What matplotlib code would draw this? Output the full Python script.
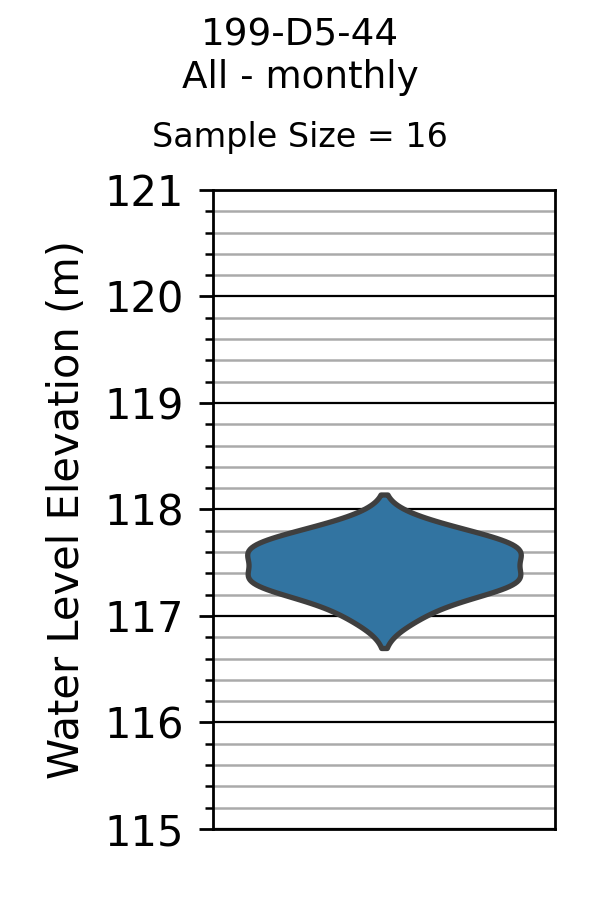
import matplotlib
matplotlib.use("Agg")
import matplotlib.pyplot as plt
from matplotlib.ticker import MultipleLocator
import seaborn as sns
import numpy as np

well = "199-D5-44"
subtitle = "All - monthly"
elevations = [116.98, 117.12, 117.25, 117.29, 117.32, 117.34, 117.36, 117.38,
              117.53, 117.58, 117.61, 117.63, 117.66, 117.69, 117.78, 117.86]
y_min, y_max = 115, 121

fig = plt.figure(figsize=(3, 4.5), dpi=200)
ax = fig.add_axes([0.355, 0.0789, 0.570, 0.71])

sns.violinplot(y=elevations, ax=ax, inner=None, color="#3274a1", saturation=1,
               linewidth=1.9, linecolor="#3f3f3f", width=0.8)

ax.set_ylim(y_min, y_max)
ax.set_xlim(-0.5, 0.5)
ax.yaxis.set_major_locator(MultipleLocator(1))
ax.yaxis.set_minor_locator(MultipleLocator(0.2))
ax.grid(which="major", axis="y", color="black", linewidth=0.8)
ax.grid(which="minor", axis="y", color="#aaaaaa", linewidth=0.9)
ax.set_axisbelow(True)
ax.set_xticks([])
ax.tick_params(axis="y", which="major", length=5, width=1, labelsize=15, pad=5.5)
ax.tick_params(axis="y", which="minor", length=2.8, width=0.9)
for s in ax.spines.values():
    s.set_linewidth(1.0)
ax.set_ylabel("Water Level Elevation (m)", fontsize=15, labelpad=6)
ax.set_xlabel("")

fig.text(0.5, 1 - 45.5 / 900, well, ha="center", va="baseline", fontsize=13.4)
fig.text(0.5, 1 - 87.5 / 900, subtitle, ha="center", va="baseline", fontsize=13.4)
fig.text(0.5, 1 - 146.5 / 900, f"Sample Size = {len(elevations)}", ha="center",
         va="baseline", fontsize=12)

fig.savefig("out.png", dpi=200)
